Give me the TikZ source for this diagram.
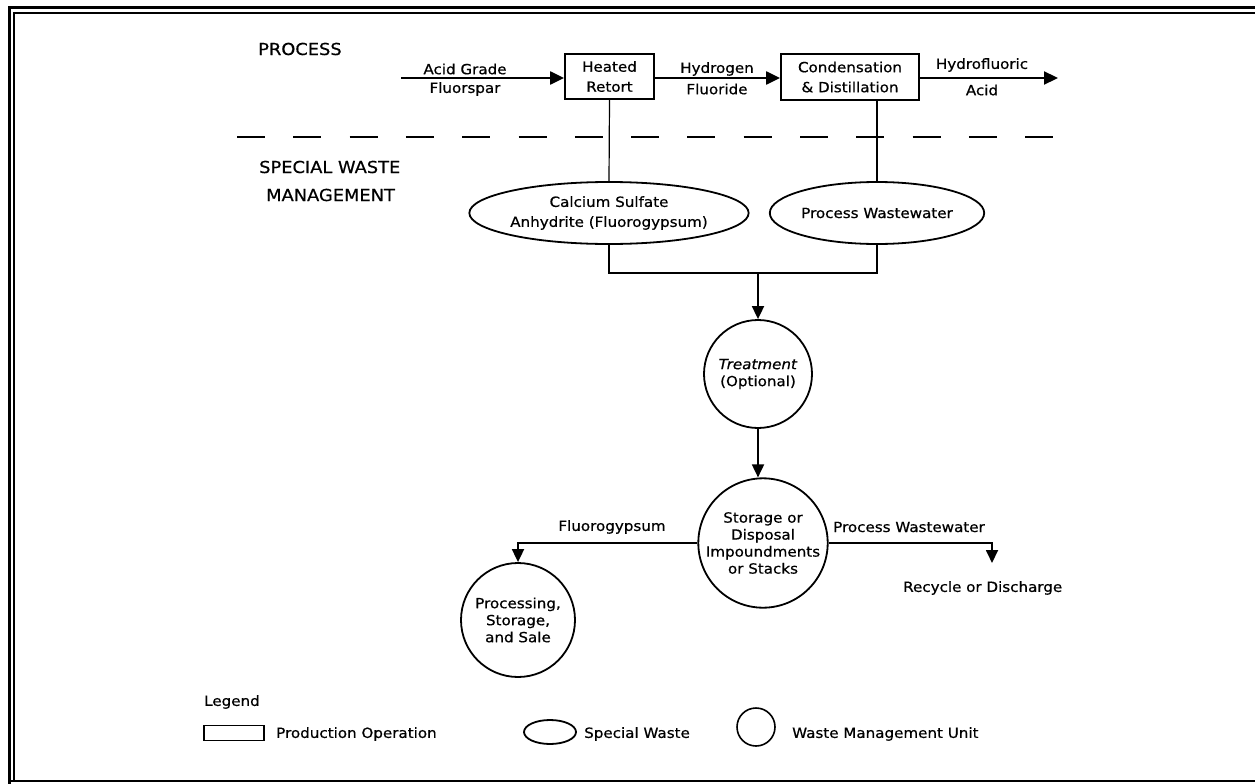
\documentclass[tikz,border=0pt]{standalone}
\usepackage{fontspec}
\setmainfont{DejaVu Sans}[FakeStretch=1.08,FakeBold=0.6]
\usetikzlibrary{shapes.geometric,arrows.meta}
\tikzset{
  lbl/.style={inner sep=0pt,font=\fontsize{14}{20}\selectfont,align=center},
  hdr/.style={inner sep=0pt,font=\fontsize{16.5}{28}\selectfont,align=left,anchor=west},
  pbox/.style={draw,line width=1.8pt,inner sep=0pt,align=center,font=\fontsize{14}{20}\selectfont},
  wst/.style={draw,ellipse,line width=1.8pt,inner sep=0pt,align=center,font=\fontsize{14}{20}\selectfont},
  wmu/.style={draw,circle,line width=1.8pt,inner sep=0pt,align=center,font=\fontsize{14}{17}\selectfont},
  flow/.style={line width=2.2pt,-{Triangle[length=14pt,width=13pt]}},
  arr/.style={line width=1.8pt,-{Triangle[length=13pt,width=12pt]}},
  conn/.style={line width=1.2pt},
}
\begin{document}
\begin{tikzpicture}[x=1pt,y=-1pt]
\useasboundingbox (0,0) rectangle (1255,784);
% frame
\draw[line width=3pt] (9,784) -- (9,8) -- (1255,8);
\draw[line width=1.8pt] (14,781) -- (14,13) -- (1255,13);
\draw[line width=1.5pt] (9,781) -- (1255,781);

% headers
\node[hdr] (proc) at (258,49) {PROCESS};
\node[hdr] (swm) at (259,167) {SPECIAL WASTE};
\node[hdr] (mgmt) at (266,195) {MANAGEMENT};

% process row
\coordinate (in) at (401,78);
\coordinate (out) at (1058,78);
\node[pbox,minimum width=89pt,minimum height=45pt] (hr) at (609.5,76.5) {Heated\\Retort};
\node[pbox,minimum width=138pt,minimum height=46pt] (cd) at (850,77) {Condensation\\\& Distillation};
\draw[flow] (in) -- (in -| hr.west);
\draw[flow] (hr.east |- in) -- (in -| cd.west);
\draw[flow] (cd.east |- in) -- (out);
\node[lbl] (l1) at (465,69) {Acid Grade};
\node[lbl] (l2) at (465,89) {Fluorspar};
\node[lbl] (l3) at (717,69) {Hydrogen};
\node[lbl] (l4) at (717,89) {Fluoride};
\node[lbl] (l5) at (982,65) {Hydrofluoric};
\node[lbl] (l6) at (982,90) {Acid};

% dashed separator
\coordinate (d1) at (237,137);
\coordinate (d2) at (1053,137);
\draw[line width=2pt,dash pattern=on 28pt off 28.3pt] (d1) -- (d2);

% special wastes
\node[wst,minimum width=228pt,minimum height=62pt] (e1) at (609,213) {Calcium Sulfate\\Anhydrite (Fluorogypsum)};
\node[wst,minimum width=176pt,minimum height=62pt] (e2) at (877,213) {Process Wastewater};
\draw[conn] (hr.south) -- (e1.north);
\draw[conn] (cd.south -| e2.north) -- (e2.north);

% join
\coordinate (j) at (758,273);
\draw[conn] (e1.south) |- (e2.south |- j) -- (e2.south);

% treatment
\node[wmu,minimum size=108pt] (tr) at (758,374) {\textit{Treatment}\\(Optional)};
\draw[arr] (j) -- (tr.north);

% storage
\node[wmu,minimum size=124pt] (st) at (763,543) {Storage or\\Disposal\\Impoundments\\or Stacks};
\draw[arr] (tr.south) -- (tr.south |- st.north);

% processing
\node[wmu,minimum size=114pt] (pr) at (518,620) {Processing,\\Storage,\\and Sale};
\draw[arr] (st.west) -| (pr.north);
\node[lbl] (lf) at (612,527) {Fluorogypsum};

% recycle
\coordinate (rc) at (992,563);
\draw[arr] (st.east) -| (rc);
\node[lbl,anchor=west] (lw) at (833,527) {Process Wastewater};
\node[lbl,anchor=west] (lr) at (903,588) {Recycle or Discharge};

% legend
\node[lbl,anchor=west] (lg) at (204,702) {Legend};
\node[draw,line width=1.6pt,minimum width=60pt,minimum height=15pt,inner sep=0pt] (lgb) at (234,733) {};
\node[lbl,anchor=west] (lgbt) at (276,734) {Production Operation};
\node[draw,ellipse,line width=1.8pt,minimum width=52pt,minimum height=24pt,inner sep=0pt] (lge) at (550,732) {};
\node[lbl,anchor=west] (lget) at (584,734) {Special Waste};
\node[draw,circle,line width=1.6pt,minimum size=38pt,inner sep=0pt] (lgc) at (756,727) {};
\node[lbl,anchor=west] (lgct) at (792,734) {Waste Management Unit};
\end{tikzpicture}
\end{document}
